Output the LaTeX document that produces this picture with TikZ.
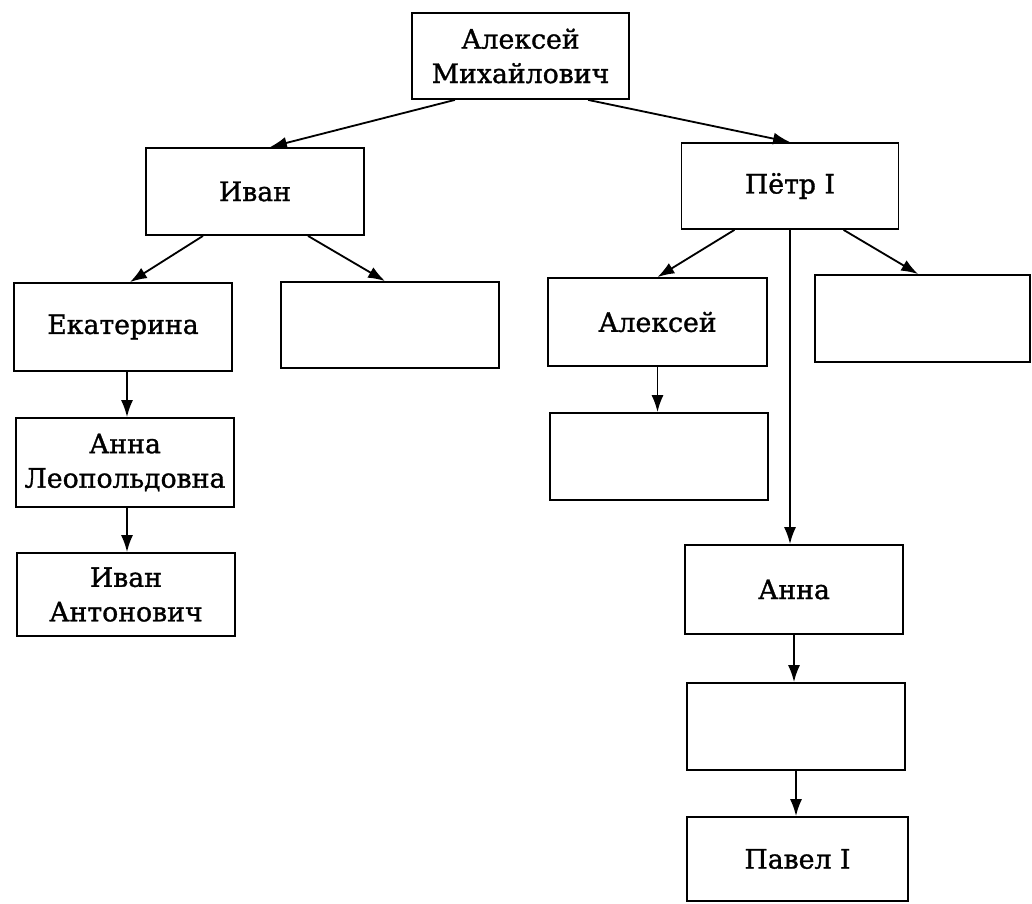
\documentclass[tikz,border=0pt]{standalone}
\usepackage{fontspec}
\setmainfont[FakeBold=1.2]{DejaVu Serif}
\usetikzlibrary{arrows.meta}
\begin{document}
\begin{tikzpicture}[x=0.025cm,y=-0.025cm,
  box/.style 2 args={draw, line width=1.3pt, minimum width=#1*0.025cm, minimum height=#2*0.025cm,
    inner sep=0pt, align=center, font=\fontsize{19}{24.5}\selectfont},
  arr/.style={line width=1.3pt, -{Latex[length=12pt,width=8.5pt]}}]
\useasboundingbox[fill=white] (0,0) rectangle (1032,903);
% boxes
\node[box={217}{86}] (am) at (520.5,56) {Алексей\\Михайлович};
\node[box={218}{87}] (ivan) at (255,191.5) {Иван};
\node[box={217}{86}] (petr) at (790,186) {Пётр I};
\node[box={218}{88}] (ekat) at (123,327) {Екатерина};
\node[box={218}{86}] (e1) at (390,325) {};
\node[box={219}{88}] (alex) at (657.5,322) {Алексей};
\node[box={215}{87}] (e2) at (922.5,318.5) {};
\node[box={218}{87}] (e3) at (659,456.5) {};
\node[box={218}{89}] (annaL) at (125,462.5) {Анна\\Леопольдовна};
\node[box={218}{83}] (ivanA) at (126,594.5) {Иван\\Антонович};
\node[box={218}{89}] (anna) at (794,589.5) {Анна};
\node[box={218}{87}] (e4) at (796,726.5) {};
\node[box={221}{84}] (pavel) at (797.5,859) {Павел I};
% connectors
\draw[arr] ([xshift=-1.64cm]am.south) -- ([xshift=0.375cm]ivan.north);
\draw[arr] ([xshift=1.69cm]am.south) -- (petr.north);
\draw[arr] ([xshift=-1.3cm]ivan.south) -- ([xshift=0.175cm]ekat.north);
\draw[arr] ([xshift=1.325cm]ivan.south) -- ([xshift=-0.125cm]e1.north);
\draw[arr] ([xshift=-1.39cm]petr.south) -- (alex.north);
\draw[arr] ([xshift=1.34cm]petr.south) -- ([xshift=-0.11cm]e2.north);
\draw[arr] (petr.south) -- (petr.south |- anna.north);
\draw[arr] ([xshift=0.1cm]ekat.south) -- ([xshift=0.1cm]ekat.south |- annaL.north);
\draw[arr] ([xshift=0.05cm]annaL.south) -- ([xshift=0.05cm]annaL.south |- ivanA.north);
\draw[arr] (alex.south) -- (alex.south |- e3.north);
\draw[arr] (anna.south) -- (anna.south |- e4.north);
\draw[arr] (e4.south) -- (e4.south |- pavel.north);
\end{tikzpicture}
\end{document}
